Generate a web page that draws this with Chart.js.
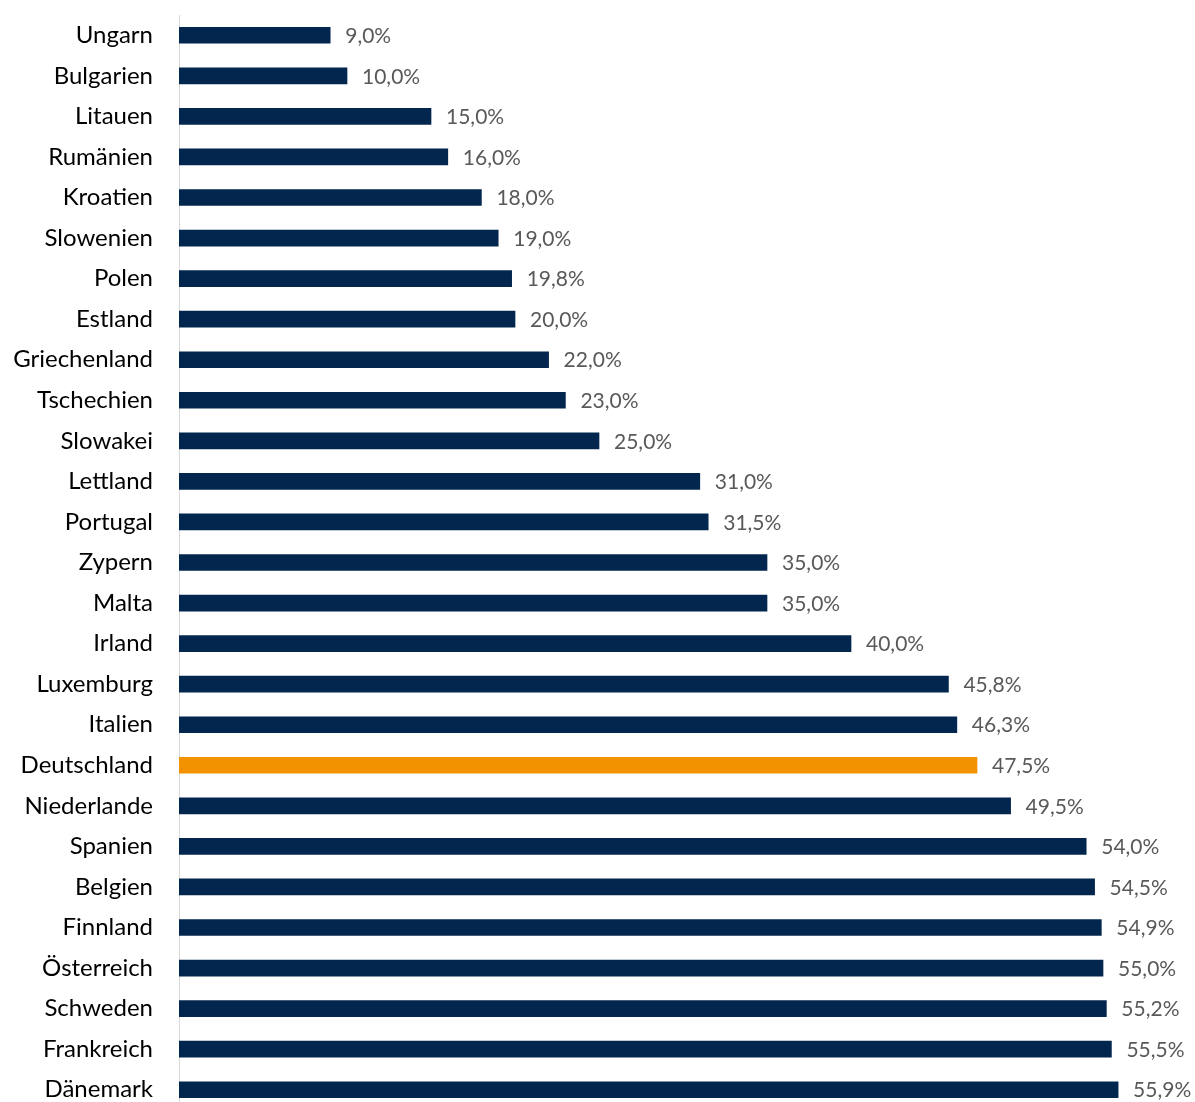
<!DOCTYPE html>
<html lang="de">

<head>
    <meta charset="UTF-8">
    <title>Anteil nach Land</title>
    <style>
        html, body { margin: 0; padding: 0; background: #fff; overflow: hidden; }
        canvas { display: block; }
    </style>
</head>

<body>
    <canvas id="myCanvas" width="1195" height="1110"></canvas>

    <script src="https://cdn.jsdelivr.net/npm/chart.js@4.4.1/dist/chart.umd.min.js"></script>
    <script>
        // Daten
        const countries = ['Ungarn', 'Bulgarien', 'Litauen', 'Rumänien', 'Kroatien', 'Slowenien', 'Polen',
            'Estland', 'Griechenland', 'Tschechien', 'Slowakei', 'Lettland', 'Portugal', 'Zypern', 'Malta',
            'Irland', 'Luxemburg', 'Italien', 'Deutschland', 'Niederlande', 'Spanien', 'Belgien', 'Finnland',
            'Österreich', 'Schweden', 'Frankreich', 'Dänemark'];
        const values = [9.0, 10.0, 15.0, 16.0, 18.0, 19.0, 19.8, 20.0, 22.0, 23.0, 25.0, 31.0, 31.5, 35.0,
            35.0, 40.0, 45.8, 46.3, 47.5, 49.5, 54.0, 54.5, 54.9, 55.0, 55.2, 55.5, 55.9];
        const highlight = 'Deutschland';

        const navy = '#03264f';
        const orange = '#f39200';

        const fontFamily = 'Lato, "Open Sans", sans-serif';

        // simple value label plugin
        const valueLabels = {
            id: 'valueLabels',
            afterDatasetsDraw(chart) {
                const ctx = chart.ctx;
                const meta = chart.getDatasetMeta(0);
                ctx.save();
                ctx.font = '21px ' + fontFamily;
                ctx.fillStyle = '#595959';
                ctx.textAlign = 'left';
                ctx.textBaseline = 'middle';
                meta.data.forEach((bar, i) => {
                    const txt = values[i].toFixed(1).replace('.', ',') + '%';
                    ctx.fillText(txt, bar.x + 15, bar.y + 1);
                });
                ctx.restore();
            }
        };

        let ctx = document.getElementById('myCanvas').getContext('2d');
        var chart = new Chart(ctx, {
            type: 'bar',
            data: {
                labels: countries,
                datasets: [{
                    data: values,
                    backgroundColor: countries.map(c => c === highlight ? orange : navy),
                    barThickness: 16
                }]
            },
            options: {
                indexAxis: 'y',
                responsive: false,
                animation: false,
                layout: { padding: { top: 15, right: 8, left: 0, bottom: 0 } },
                plugins: {
                    legend: { display: false },
                    tooltip: { enabled: false }
                },
                scales: {
                    x: {
                        display: false,
                        min: 0,
                        max: 60
                    },
                    y: {
                        afterFit(scale) {
                            scale.width = 179;
                            scale.paddingTop = 0;
                            scale.paddingBottom = 0;
                        },
                        grid: { display: false, drawTicks: false },
                        border: { display: true, color: '#d9d9d9', width: 1 },
                        ticks: {
                            color: '#000',
                            padding: 26,
                            autoSkip: false,
                            font: { family: fontFamily, size: 24 }
                        }
                    }
                }
            },
            plugins: [valueLabels]
        });
    </script>
</body>

</html>
